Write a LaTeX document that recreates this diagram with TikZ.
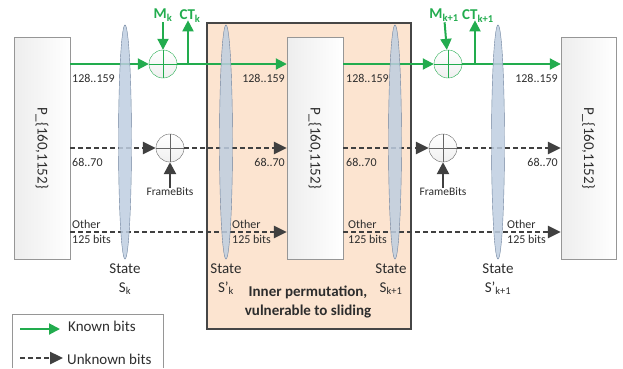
\documentclass[tikz,border=0pt]{standalone}
\usepackage{fontspec}
\setmainfont{Carlito}
\usepackage{xcolor}
\usepackage{tikz}
\usetikzlibrary{
    arrows.meta,
    positioning,
    shapes.geometric,
    calc
}
\definecolor{kgreen}{RGB}{34,172,78}
\definecolor{ugrey}{RGB}{64,64,64}
\definecolor{txtgrey}{RGB}{45,45,45}
\definecolor{stfill}{RGB}{190,206,224}
\definecolor{stdraw}{RGB}{110,130,158}
\definecolor{permdraw}{RGB}{150,150,150}
\definecolor{innerfill}{RGB}{252,228,208}
\definecolor{innerdraw}{RGB}{70,70,70}
\newcommand{\bigfont}{\fontsize{15}{19}\selectfont}
\newcommand{\bitsfont}{\fontsize{12}{15}\selectfont}
\newcommand{\framefont}{\fontsize{11.5}{13}\selectfont}
\newcommand{\permtext}{\rotatebox{-90}{P\_\{160,1152\}}}

\begin{document}
\begin{tikzpicture}[
    x=1pt, y=-1pt,
    permbox/.style={
        draw=permdraw,
        left color=gray!14,
        right color=white,
        minimum width=56pt,
        minimum height=222pt,
        inner sep=0pt,
        font=\bigfont,
        text=txtgrey
    },
    innerbox/.style={
        draw=innerdraw,
        line width=1.1pt,
        fill=innerfill,
        minimum width=204pt,
        minimum height=306pt
    },
    statebox/.style={
        ellipse,
        draw=stdraw,
        fill=stfill,
        fill opacity=0.85,
        minimum width=13pt,
        minimum height=234pt,
        inner sep=0pt
    },
    xorg/.style={
        circle,
        draw=kgreen,
        top color=white,
        bottom color=gray!12,
        minimum size=28pt,
        inner sep=0pt,
        path picture={
            \draw[kgreen] (path picture bounding box.north) -- (path picture bounding box.south)
                (path picture bounding box.west) -- (path picture bounding box.east);
        }
    },
    xoru/.style={
        xorg,
        draw=ugrey!80,
        path picture={
            \draw[ugrey!80] (path picture bounding box.north) -- (path picture bounding box.south)
                (path picture bounding box.west) -- (path picture bounding box.east);
        }
    },
    known/.style={
        draw=kgreen,
        line width=2pt,
        -{Triangle[length=11pt,width=11pt]}
    },
    unknown/.style={
        draw=ugrey,
        line width=2.5pt,
        dash pattern=on 5pt off 3pt,
        -{Triangle[length=13pt,width=12pt]}
    },
    framearrow/.style={
        draw=ugrey,
        line width=2.5pt,
        -{Triangle[length=12pt,width=12pt]}
    },
    bits/.style={
        font=\bitsfont,
        text=txtgrey,
        inner sep=0pt,
        align=left
    },
    statelbl/.style={
        font=\bigfont,
        text=txtgrey,
        align=center,
        inner sep=0pt
    },
    msglbl/.style={
        font=\bigfont\bfseries,
        text=kgreen,
        inner sep=1pt
    }
]
\useasboundingbox (0,0) rectangle (623,368);

\node[innerbox] (inner) at (309,176) {};

\node[permbox] (perm1) at (42,148) {\permtext};
\node[permbox] (perm2) at (315,148) {\permtext};
\node[permbox, minimum width=55pt] (perm3) at (588.5,148) {\permtext};

\node[xorg] (xorA) at (163,64) {};
\node[xoru] (xorB) at (170,148) {};
\node[xorg] (xorC) at (448,64) {};
\node[xoru] (xorD) at (443,148) {};
\coordinate (row3) at (0,232);

\node[msglbl] (mk) at (163,15) {M\textsubscript{k}};
\node[msglbl] (ctk) at (190,16) {CT\textsubscript{k}};
\node[msglbl] (mk1) at (444,15) {M\textsubscript{k+1}};
\node[msglbl] (ctk1) at (478,16) {CT\textsubscript{k+1}};

\node[bits, font=\framefont] (fb1) at (170,192) {FrameBits};
\node[bits, font=\framefont] (fb2) at (443,192) {FrameBits};

\draw[known] (perm1.east |- xorA) -- (xorA);
\draw[known] (xorA) -- (perm2.west |- xorA);
\draw[known] (perm2.east |- xorC) -- (xorC);
\draw[known] (xorC) -- (perm3.west |- xorC);

\draw[known] (mk) -- (xorA);
\draw[known] (mk1) -- (xorC);
\draw[known] ([xshift=-2pt]ctk.south |- xorA) -- ([xshift=-2pt,yshift=3pt]ctk.south);
\draw[known] ([xshift=-3pt]ctk1.south |- xorC) -- ([xshift=-3pt,yshift=3pt]ctk1.south);

\draw[unknown] (perm1.east |- xorB) -- (xorB);
\draw[unknown] (xorB) -- (perm2.west |- xorB);
\draw[unknown] (perm2.east |- xorD) -- (xorD);
\draw[unknown] (xorD) -- (perm3.west |- xorD);
\draw[unknown] (perm1.east |- row3) -- (perm2.west |- row3);
\draw[unknown] (perm2.east |- row3) -- (perm3.west |- row3);

\draw[framearrow] (fb1) -- (xorB);
\draw[framearrow] (fb2) -- (xorD);

\node[statebox] (stA) at (125,142) {};
\node[statebox] (stB) at (226,142) {};
\node[statebox] (stC) at (395,142) {};
\node[statebox] (stD) at (498,142) {};

\node[statelbl, below=4pt of stA] {State\\S\textsubscript{k}};
\node[statelbl, below=4pt of stB] {State\\S’\textsubscript{k}};
\node[statelbl, below=4pt of stC, xshift=-4pt] {State\\S\textsubscript{k+1}};
\node[statelbl, below=4pt of stD] {State\\S’\textsubscript{k+1}};

\node[statelbl, font=\bigfont\bfseries] (innerlbl) at (308,302)
    {Inner permutation,\\vulnerable to sliding};

\node[bits, anchor=west] at (72,78) {128..159};
\node[bits, anchor=east] at (285,78) {128..159};
\node[bits, anchor=west] at (346,78) {128..159};
\node[bits, anchor=east] at (558,78) {128..159};

\node[bits, anchor=west] at (72,162) {68..70};
\node[bits, anchor=east] at (285,162) {68..70};
\node[bits, anchor=west] at (346,162) {68..70};
\node[bits, anchor=east] at (558,162) {68..70};

\node[bits, anchor=west] at (72,232) {Other\\125 bits};
\node[bits, anchor=west] at (232,232) {Other\\125 bits};
\node[bits, anchor=west] at (348,232) {Other\\125 bits};
\node[bits, anchor=west] at (507,232) {Other\\125 bits};

% legend
\draw[permdraw] (12,368) |- (163,314) -- (163,368);
\node[statelbl, anchor=west] (lkn) at (68,326) {Known bits};
\node[statelbl, anchor=west] (lun) at (67,359) {Unknown bits};
\coordinate (lk0) at (20,329);
\coordinate (lu0) at (20,358);
\draw[known] (lk0) -- ([xshift=-8pt]lk0 -| lkn.west);
\draw[unknown] (lu0) -- ([xshift=-4pt]lu0 -| lun.west);

\end{tikzpicture}
\end{document}
